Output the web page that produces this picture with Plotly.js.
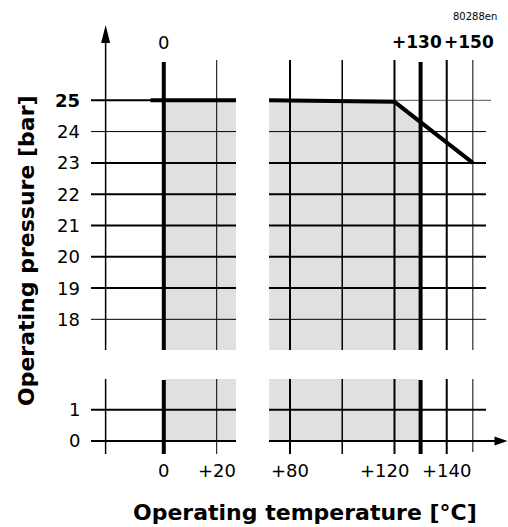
<!DOCTYPE html>
<html><head><meta charset="utf-8">
<script src="https://cdn.plot.ly/plotly-3.0.1.min.js"></script>
<style>html,body{margin:0;padding:0;background:#fff;overflow:hidden}</style>
</head><body><div id="chart" style="width:508px;height:527px"></div>
<script>
// ---------- data ----------
const pressureTicksTop = [25, 24, 23, 22, 21, 20, 19, 18];
const pressureTicksBottom = [1, 0];
const tempGridLeft = [0, 20];
const tempGridRight = [80, 100, 120, 130, 140, 150];
const bottomTempValues = [0, 20, 80, 120, 140];
const bottomTempLabels = ['0', '+20', '+80', '+120', '+140'];
const topTempValues = [0, 130, 150];
const topTempLabels = ['0', '+130', '+150'];
const limitTempLeft = [-5, 27.3];
const limitPressureLeft = [25, 25];
const limitTempRight = [72, 120, 150];
const limitPressureRight = [25, 24.95, 23];
const minTemp = 0;
const maxTemp = 130;
const yTitle = 'Operating pressure [bar]';
const xTitle = 'Operating temperature [°C]';
const docCode = '80288en';

// ---------- geometry (pixel -> axis value) ----------
const W = 508, H = 527;
const xL = p => (p - 163.8) / 2.645;
const xR = p => 80 + (p - 290) / 2.612;
const yT = p => 25 - (p - 100.3) / 31.29;
const yB = p => -(p - 441) / 31.3;

const L0 = xL(91), L1 = xL(236), R0 = xR(269), R1 = xR(486);
const Tbot = yT(350), Ttop = yT(60), Bt = yB(379), Bb = yB(454);
const axisX = -22;

const FONT = 'DejaVu Sans, Liberation Sans, Arial, sans-serif';
const INK = '#000';
const GRAY = '#e0e0e0';

const traces = [];
function fill(xa, ya, xs, ys) {
  traces.push({type: 'scatter', mode: 'lines', xaxis: xa, yaxis: ya, x: xs, y: ys,
    fill: 'toself', fillcolor: GRAY, line: {width: 0, color: GRAY}, hoverinfo: 'skip', showlegend: false});
}
function seg(xa, ya, x0, y0, x1, y1, w, c) {
  traces.push({type: 'scatter', mode: 'lines', xaxis: xa, yaxis: ya, x: [x0, x1], y: [y0, y1],
    line: {width: w, color: c || INK}, hoverinfo: 'skip', showlegend: false});
}

// pressure at maxTemp on the limit curve
function pressureAt(t) {
  for (let i = 0; i < limitTempRight.length - 1; i++) {
    const a = limitTempRight[i], b = limitTempRight[i + 1];
    if (t >= a && t <= b) return limitPressureRight[i] + (t - a) / (b - a) * (limitPressureRight[i + 1] - limitPressureRight[i]);
  }
  return limitPressureRight[limitPressureRight.length - 1];
}

// gray operating areas
fill('x', 'y', [minTemp, L1, L1, minTemp], [Tbot, Tbot, limitPressureLeft[0], limitPressureLeft[0]]);
const rx = [], ry = [];
limitTempRight.forEach((t, i) => { if (t <= maxTemp) { rx.push(t); ry.push(limitPressureRight[i]); } });
rx.push(maxTemp, maxTemp, limitTempRight[0]); ry.push(pressureAt(maxTemp), Tbot, Tbot);
fill('x2', 'y', rx, ry);
fill('x', 'y2', [minTemp, L1, L1, minTemp], [0, 0, Bt, Bt]);
fill('x2', 'y2', [limitTempRight[0], maxTemp, maxTemp, limitTempRight[0]], [0, 0, Bt, Bt]);

// horizontal grid
const thinH = new Set([24, 18]);
pressureTicksTop.forEach(v => {
  const w = thinH.has(v) ? 1 : 2;
  seg('x', 'y', L0, v, L1, v, w);
  if (v === 25) seg('x2', 'y', R0, v, xR(491), v, 1, '#555');
  else seg('x2', 'y', R0, v, R1, v, w);
});
pressureTicksBottom.forEach(v => {
  seg('x', 'y2', L0, v, L1, v, 2);
  seg('x2', 'y2', R0, v, v === 0 ? xR(497) : R1, v, 2);
});

// vertical grid
const vWidth = {0: 4, 20: 1, 80: 2, 100: 1.5, 120: 2, 130: 4, 140: 2, 150: 1};
seg('x', 'y', axisX, yT(42), axisX, Tbot, 1.5);
seg('x', 'y2', axisX, Bt, axisX, Bb, 1.5);
tempGridLeft.forEach(t => {
  const thick = t === minTemp;
  seg('x', 'y', t, thick ? yT(62) : Ttop, t, Tbot, vWidth[t]);
  seg('x', 'y2', t, thick ? yB(380) : Bt, t, Bb, vWidth[t]);
});
tempGridRight.forEach(t => {
  const thick = t === maxTemp;
  seg('x2', 'y', t, thick ? yT(62) : Ttop, t, Tbot, vWidth[t]);
  seg('x2', 'y2', t, thick ? yB(380) : Bt, t, t === 150 ? yB(452) : Bb, vWidth[t]);
});

// limit curve
traces.push({type: 'scatter', mode: 'lines', xaxis: 'x', yaxis: 'y', x: limitTempLeft, y: limitPressureLeft,
  line: {width: 4, color: INK}, hoverinfo: 'skip', showlegend: false});
traces.push({type: 'scatter', mode: 'lines', xaxis: 'x2', yaxis: 'y', x: limitTempRight, y: limitPressureRight,
  line: {width: 4, color: INK}, hoverinfo: 'skip', showlegend: false});

// ---------- annotations ----------
const ann = [];
const boldVals = new Set([25]);
pressureTicksTop.forEach(v => ann.push({xref: 'paper', x: 82 / W, xanchor: 'right', yref: 'y', y: v, yanchor: 'middle',
  text: boldVals.has(v) ? '<b>' + v + '</b>' : String(v), showarrow: false, font: {family: FONT, size: 18, color: INK}}));
pressureTicksBottom.forEach(v => ann.push({xref: 'paper', x: 82 / W, xanchor: 'right', yref: 'y2', y: v, yanchor: 'middle',
  text: String(v), showarrow: false, font: {family: FONT, size: 18, color: INK}}));
const shiftBottom = {120: -10};
bottomTempValues.forEach((t, i) => ann.push({xref: t < 50 ? 'x' : 'x2', x: t, xshift: shiftBottom[t] || 0,
  yref: 'paper', y: 1 - 470 / H, yanchor: 'middle', text: bottomTempLabels[i], showarrow: false,
  font: {family: FONT, size: 18, color: INK}}));
topTempValues.forEach((t, i) => ann.push({xref: t < 50 ? 'x' : 'x2', x: t, xshift: t > 50 ? -4 : 0,
  yref: 'paper', y: 1 - 42 / H, yanchor: 'middle', text: t > 50 ? '<b>' + topTempLabels[i] + '</b>' : topTempLabels[i],
  showarrow: false, font: {family: FONT, size: t > 50 ? 17 : 18, color: INK}}));
ann.push({xref: 'paper', yref: 'paper', x: 305 / W, y: 1 - 512 / H, xanchor: 'center', yanchor: 'middle',
  text: '<b>' + xTitle + '</b>', showarrow: false, font: {family: FONT, size: 22, color: INK}});
ann.push({xref: 'paper', yref: 'paper', x: 26 / W, y: 1 - 251 / H, xanchor: 'center', yanchor: 'middle', textangle: -90,
  text: '<b>' + yTitle + '</b>', showarrow: false, font: {family: FONT, size: 22, color: INK}});
ann.push({xref: 'paper', yref: 'paper', x: 475 / W, y: 1 - 16 / H, xanchor: 'center', yanchor: 'middle',
  text: docCode, showarrow: false, font: {family: FONT, size: 10, color: INK}});

// axis arrows
const shapes = [
  {type: 'path', xref: 'x', yref: 'y', xsizemode: 'pixel', ysizemode: 'pixel', xanchor: axisX, yanchor: yT(25),
    path: 'M-4.5,-18L4.5,-18L0,0Z', fillcolor: INK, line: {width: 0}},
  {type: 'path', xref: 'x2', yref: 'y2', xsizemode: 'pixel', ysizemode: 'pixel', xanchor: xR(507.5), yanchor: 0,
    path: 'M-13,-4.5L-13,4.5L0,0Z', fillcolor: INK, line: {width: 0}}
];

const hidden = {visible: false, showgrid: false, zeroline: false, fixedrange: true};
const layout = {
  width: W, height: H, autosize: false, margin: {l: 0, r: 0, t: 0, b: 0},
  paper_bgcolor: '#fff', plot_bgcolor: 'rgba(0,0,0,0)', showlegend: false,
  xaxis: Object.assign({domain: [80 / W, 250 / W], range: [xL(80), xL(250)], anchor: 'y'}, hidden),
  xaxis2: Object.assign({domain: [255 / W, 1], range: [xR(255), xR(508)], anchor: 'y'}, hidden),
  yaxis: Object.assign({domain: [1 - 360 / H, 1 - 20 / H], range: [yT(360), yT(20)], anchor: 'x'}, hidden),
  yaxis2: Object.assign({domain: [1 - 462 / H, 1 - 370 / H], range: [yB(462), yB(370)], anchor: 'x'}, hidden),
  annotations: ann, shapes: shapes
};
Plotly.newPlot('chart', traces, layout, {staticPlot: true, displayModeBar: false});
</script></body></html>
